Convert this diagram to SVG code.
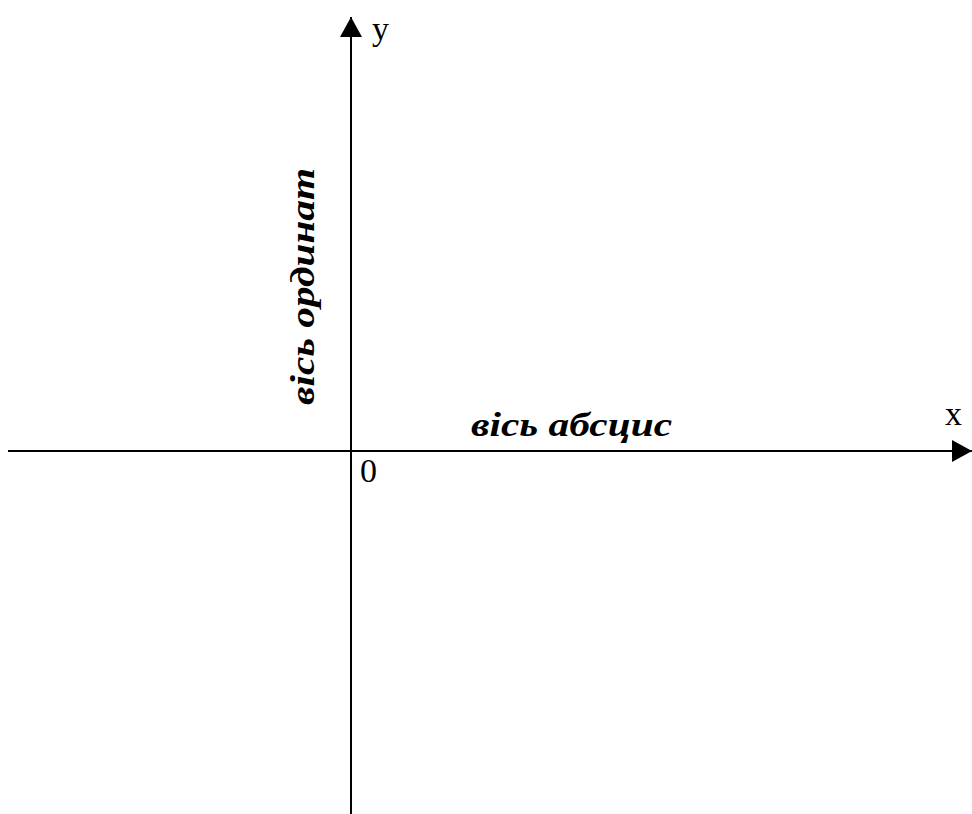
<svg xmlns="http://www.w3.org/2000/svg" width="972" height="814" viewBox="0 0 972 814">
<defs>
<style>
.axis{stroke:#000;stroke-width:2;fill:none}
.lbl{font-family:"Liberation Serif","DejaVu Serif",serif;font-size:34px;fill:#000}
.cap{font-family:"Liberation Serif","DejaVu Serif",serif;font-size:33px;font-weight:bold;font-style:italic;fill:#000}
</style>
<marker id="arr" viewBox="0 0 20 22" refX="20" refY="11" markerWidth="20" markerHeight="22" markerUnits="userSpaceOnUse" orient="auto">
<path d="M0,0 L20,11 L0,22 Z" fill="#000"/>
</marker>
</defs>
<rect width="972" height="814" fill="#fff"/>
<g id="connectors">
<line id="x-axis" class="axis" x1="8" y1="451" x2="972" y2="451" marker-end="url(#arr)"/>
<line id="y-axis" class="axis" x1="351" y1="814" x2="351" y2="17" marker-end="url(#arr)"/>
</g>
<g id="label-y"><text class="lbl" x="372" y="40">y</text></g>
<g id="label-x"><text class="lbl" x="945" y="425">x</text></g>
<g id="label-0"><text class="lbl" x="360" y="482">0</text></g>
<g id="label-abscissa"><text class="cap" x="471" y="436" textLength="201" lengthAdjust="spacingAndGlyphs">вісь абсцис</text></g>
<g id="label-ordinate"><text class="cap" transform="translate(314,405) rotate(-90)" textLength="237" lengthAdjust="spacingAndGlyphs">вісь ординат</text></g>
</svg>
